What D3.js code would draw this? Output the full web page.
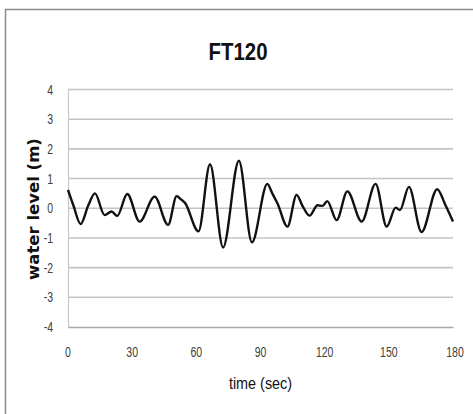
<!DOCTYPE html>
<html>
<head>
<meta charset="utf-8">
<script src="https://cdn.jsdelivr.net/npm/d3@7"></script>
<style>
  html, body { margin: 0; padding: 0; background: #fff; }
  svg { display: block; }
</style>
</head>
<body>
<svg id="chart" width="473" height="414"></svg>
<script>
const title = "FT120";
const xLabel = "time (sec)";
const yLabel = "water level (m)";
const xTicks = [0, 30, 60, 90, 120, 150, 180];
const yTicks = [-4, -3, -2, -1, 0, 1, 2, 3, 4];
const timeSec = [0, 2.5, 5.9, 9.5, 12.6, 17.1, 20.4, 23, 27.7, 33.5, 40.5, 46.8, 50.8, 52.8, 54.7, 61, 66.4, 72.5, 79.9, 86, 93.2, 95.5, 98, 102.6, 106.9, 109.5, 112.9, 116.7, 119, 121.2, 125.6, 130.6, 137.3, 143.8, 149, 153.2, 155.2, 159.4, 165.3, 172.6, 176.5, 180];
const waterLevel = [0.62, 0.1, -0.53, 0.1, 0.5, -0.23, -0.11, -0.26, 0.48, -0.45, 0.39, -0.56, 0.41, 0.3, 0.18, -0.78, 1.48, -1.32, 1.6, -1.15, 0.82, 0.5, 0.15, -0.62, 0.45, 0.1, -0.25, 0.1, 0.08, 0.24, -0.4, 0.57, -0.45, 0.82, -0.62, 0.02, -0.06, 0.72, -0.8, 0.64, 0.1, -0.45];

const svg = d3.select("#chart");
const sans = "'Liberation Sans', Arial, sans-serif";

svg.append("rect").attr("x", 5.5).attr("y", 9.5).attr("width", 480).attr("height", 420)
  .attr("fill", "#fff").attr("stroke", "#8a8a8a").attr("stroke-width", 1.5);

const x = d3.scaleLinear().domain([0, 180]).range([68, 453]);
const y = d3.scaleLinear().domain([-4, 4]).range([327, 89.5]);

// gridlines
svg.append("g").selectAll("line").data(yTicks.filter(d => d !== -4)).join("line")
  .attr("x1", x(0)).attr("x2", x(180)).attr("y1", d => y(d)).attr("y2", d => y(d))
  .attr("stroke", "#c4c4c4").attr("stroke-width", 1.6);

// axes (lines)
const yAxis = svg.append("g").attr("transform", `translate(${x(0)},0)`)
  .call(d3.axisLeft(y).tickValues(yTicks).tickSize(0).tickFormat(""));
yAxis.select(".domain").attr("stroke", "#c8c8c8").attr("stroke-width", 1.2);

const xAxis = svg.append("g").attr("transform", `translate(0,${y(-4)})`)
  .call(d3.axisBottom(x).tickValues(xTicks).tickSize(0).tickFormat(""));
xAxis.select(".domain").attr("stroke", "#a8a8a8").attr("stroke-width", 1.6);

// tick labels (narrow)
svg.append("g").selectAll("text").data(yTicks).join("text")
  .attr("transform", d => `translate(53,${y(d) + 5}) scale(0.75,1)`)
  .attr("text-anchor", "end").attr("font-family", sans).attr("font-size", 14)
  .attr("fill", "#404040").text(d => String(d));

svg.append("g").selectAll("text").data(xTicks).join("text")
  .attr("transform", d => `translate(${x(d) + (d === 180 ? 2 : 0)},356.5) scale(0.75,1)`)
  .attr("text-anchor", "middle").attr("font-family", sans).attr("font-size", 14)
  .attr("fill", "#404040").text(d => String(d));

// line
const data = timeSec.map((t, i) => [t, waterLevel[i]]);
svg.append("path").datum(data)
  .attr("fill", "none").attr("stroke", "#111").attr("stroke-width", 2.4)
  .attr("stroke-linejoin", "round")
  .attr("d", d3.line().x(d => x(d[0])).y(d => y(d[1])).curve(d3.curveMonotoneX));

// title
svg.append("text").attr("transform", "translate(238,60) scale(0.85,1)").attr("text-anchor", "middle")
  .attr("font-family", sans).attr("font-weight", "bold").attr("font-size", 24)
  .attr("fill", "#111").text(title);

svg.append("text").attr("transform", "translate(260.5,389) scale(0.9,1)").attr("text-anchor", "middle")
  .attr("font-family", sans).attr("font-size", 16)
  .attr("fill", "#111").text(xLabel);

svg.append("text").attr("transform", "translate(38.5,209) rotate(-90)").attr("text-anchor", "middle")
  .attr("font-family", "'DejaVu Sans', sans-serif").attr("font-weight", "bold").attr("font-size", 16.5)
  .attr("fill", "#111").text(yLabel);
</script>
</body>
</html>
